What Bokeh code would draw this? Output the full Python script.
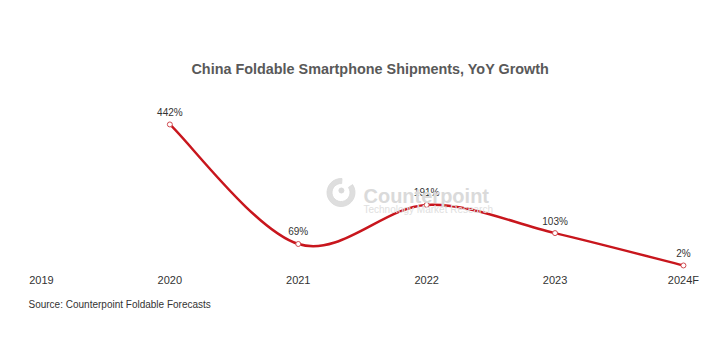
from bokeh.plotting import figure
from bokeh.models import ColumnDataSource, Label, FixedTicker, Range1d, Title
from bokeh.embed import file_html
from bokeh.resources import INLINE
from bokeh.core.properties import value

# ---- data ----
years = ["2019", "2020", "2021", "2022", "2023", "2024F"]
growth = [None, 442, 69, 191, 103, 2]

title_text = "China Foldable Smartphone Shipments, YoY Growth"
source_text = "Source: Counterpoint Foldable Forecasts"

RED = "#C8161D"
FONT = "Liberation Sans"

xs = [i for i, g in enumerate(growth) if g is not None]
ys = [g for g in growth if g is not None]
labels = [f"{g}%" for g in ys]

# Catmull-Rom -> cubic bezier segments (smoothed line like the original)
bx0, by0, bx1, by1, bcx0, bcy0, bcx1, bcy1 = [], [], [], [], [], [], [], []
n = len(xs)
for i in range(n - 1):
    p0 = (xs[max(i - 1, 0)], ys[max(i - 1, 0)])
    p1 = (xs[i], ys[i])
    p2 = (xs[i + 1], ys[i + 1])
    p3 = (xs[min(i + 2, n - 1)], ys[min(i + 2, n - 1)])
    bx0.append(p1[0]); by0.append(p1[1])
    bx1.append(p2[0]); by1.append(p2[1])
    bcx0.append(p1[0] + (p2[0] - p0[0]) / 6); bcy0.append(p1[1] + (p2[1] - p0[1]) / 6)
    bcx1.append(p2[0] - (p3[0] - p1[0]) / 6); bcy1.append(p2[1] - (p3[1] - p1[1]) / 6)

p = figure(frame_width=704, frame_height=270,
           min_border_left=0, min_border_right=0, min_border_top=0, min_border_bottom=76,
           x_range=Range1d(-0.319, 5.164), y_range=Range1d(-13.7, 828.7),
           y_axis_location=None,
           output_backend="svg", toolbar_location=None)
p.outline_line_color = None
p.grid.visible = False
p.background_fill_color = "white"
p.border_fill_color = "white"

ax = p.xaxis[0]
ax.ticker = FixedTicker(ticks=list(range(len(years))))
ax.major_label_overrides = {i: y for i, y in enumerate(years)}
ax.axis_line_color = None
ax.major_tick_line_color = None
ax.minor_tick_line_color = None
ax.major_tick_in = 0
ax.major_tick_out = 0
ax.major_label_standoff = 3
ax.major_label_text_font = FONT
ax.major_label_text_font_size = "11px"
ax.major_label_text_color = "#333333"

# ---- source note below the axis ----
src_title = Title(text=source_text, align="left", offset=28, standoff=16,
                  text_font=FONT, text_font_size="10px", text_font_style="normal",
                  text_color="#333333")
p.add_layout(src_title, "below")

# ---- watermark logo ----
p.annular_wedge(x=[2.333], y=[229.6], inner_radius=9, outer_radius=14,
                inner_radius_units="screen", outer_radius_units="screen",
                start_angle=1.5, end_angle=0.6, color="#dadada", alpha=0.9)
p.scatter(x=[2.336], y=[235.9], size=5, color="#dadada")
p.add_layout(Label(x=2.508, y=217.2, text="Counterpoint", text_font=FONT,
                   text_font_style="bold", text_font_size="20px", text_color="#dadada",
                   text_baseline="alphabetic"))
p.add_layout(Label(x=2.508, y=176.6, text="Technology Market Research", text_font=FONT,
                   text_font_size="10px", text_color="#e0e0e0",
                   text_baseline="alphabetic"))

# ---- line ----
p.bezier(x0=bx0, y0=by0, x1=bx1, y1=by1, cx0=bcx0, cy0=bcy0, cx1=bcx1, cy1=bcy1,
         line_color=RED, line_width=2.5)

src = ColumnDataSource(dict(x=xs, y=ys, label=labels))
p.scatter("x", "y", source=src, size=5, fill_color="white", line_color="#D04A50", line_width=1)
p.text("x", "y", text="label", source=src, text_align="center", text_baseline="alphabetic",
       y_offset=-12, text_font=value(FONT), text_font_size="10px", text_color="#333333")

# ---- title ----
p.add_layout(Label(x=2.562, y=616.5, text=title_text, text_font=FONT, text_font_style="bold",
                   text_font_size="14.4px", text_color="#595959", text_align="center",
                   text_baseline="middle"))

open("out.html", "w").write(file_html(p, INLINE))
